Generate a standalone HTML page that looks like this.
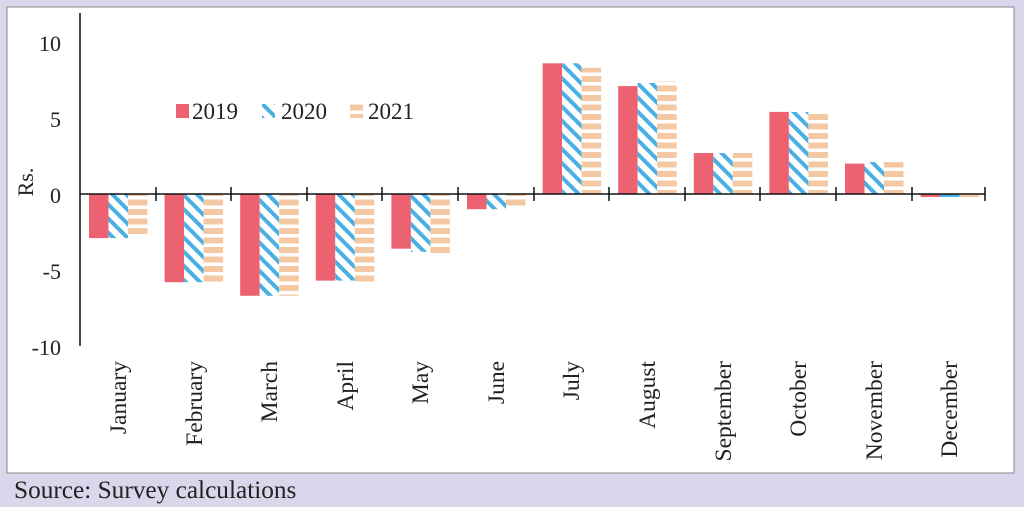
<!DOCTYPE html>
<html><head><meta charset="utf-8"><style>
html,body{margin:0;padding:0;background:#dad6ec;width:1024px;height:507px;overflow:hidden}
svg{display:block}
text{font-family:"Liberation Serif",serif;fill:#222}
</style></head><body>
<svg width="1024" height="507" xmlns="http://www.w3.org/2000/svg">
<defs>
<pattern id="p20" width="10" height="10" patternUnits="userSpaceOnUse" patternTransform="rotate(-45)">
<rect width="10" height="10" fill="#fff"/><rect x="0" y="0" width="4" height="10" fill="#4ab0e4"/></pattern>
<pattern id="p21" width="10" height="9.5" patternUnits="userSpaceOnUse">
<rect width="10" height="9.5" fill="#fff"/><rect x="0" y="0" width="10" height="6" fill="#f5c8a4"/></pattern>
</defs>
<rect x="7" y="7" width="1007" height="466" fill="#fff" stroke="#888" stroke-width="1"/>
<g id="bars">
<rect x="89" y="194" width="19.5" height="44.1" fill="#ec6271"/><rect x="108.5" y="194" width="19.5" height="44.1" fill="url(#p20)"/><rect x="128" y="194" width="19.5" height="41" fill="url(#p21)"/>
<rect x="164.6" y="194" width="19.5" height="88.2" fill="#ec6271"/><rect x="184.1" y="194" width="19.5" height="88.2" fill="url(#p20)"/><rect x="203.6" y="194" width="19.5" height="88.2" fill="url(#p21)"/>
<rect x="240.2" y="194" width="19.5" height="101.8" fill="#ec6271"/><rect x="259.7" y="194" width="19.5" height="101.8" fill="url(#p20)"/><rect x="279.2" y="194" width="19.5" height="101.8" fill="url(#p21)"/>
<rect x="315.8" y="194" width="19.5" height="86.6" fill="#ec6271"/><rect x="335.3" y="194" width="19.5" height="86.6" fill="url(#p20)"/><rect x="354.8" y="194" width="19.5" height="88.2" fill="url(#p21)"/>
<rect x="391.4" y="194" width="19.5" height="54.7" fill="#ec6271"/><rect x="410.9" y="194" width="19.5" height="57.8" fill="url(#p20)"/><rect x="430.4" y="194" width="19.5" height="59.3" fill="url(#p21)"/>
<rect x="467" y="194" width="19.5" height="15.2" fill="#ec6271"/><rect x="486.5" y="194" width="19.5" height="15.2" fill="url(#p20)"/><rect x="506" y="194" width="19.5" height="12.2" fill="url(#p21)"/>
<rect x="542.6" y="63.3" width="19.5" height="130.7" fill="#ec6271"/><rect x="562.1" y="63.3" width="19.5" height="130.7" fill="url(#p20)"/><rect x="581.6" y="67.8" width="19.5" height="126.2" fill="url(#p21)"/>
<rect x="618.2" y="86.1" width="19.5" height="107.9" fill="#ec6271"/><rect x="637.7" y="83" width="19.5" height="111" fill="url(#p20)"/><rect x="657.2" y="81.5" width="19.5" height="112.5" fill="url(#p21)"/>
<rect x="693.8" y="153" width="19.5" height="41" fill="#ec6271"/><rect x="713.3" y="153" width="19.5" height="41" fill="url(#p20)"/><rect x="732.8" y="153" width="19.5" height="41" fill="url(#p21)"/>
<rect x="769.4" y="111.9" width="19.5" height="82.1" fill="#ec6271"/><rect x="788.9" y="111.9" width="19.5" height="82.1" fill="url(#p20)"/><rect x="808.4" y="110.4" width="19.5" height="83.6" fill="url(#p21)"/>
<rect x="845" y="163.6" width="19.5" height="30.4" fill="#ec6271"/><rect x="864.5" y="162.1" width="19.5" height="31.9" fill="url(#p20)"/><rect x="884" y="162.1" width="19.5" height="31.9" fill="url(#p21)"/>
<rect x="920.6" y="194" width="19.5" height="3" fill="#ec6271"/><rect x="940.1" y="194" width="19.5" height="3" fill="#4ab0e4"/><rect x="959.6" y="194" width="19.5" height="3" fill="#f5c8a4"/>
</g>
<g stroke="#111" stroke-width="1.5">
<line x1="80" y1="13" x2="80" y2="346"/>
<line x1="80" y1="194" x2="985" y2="194"/>
<line x1="156" y1="187" x2="156" y2="201"/><line x1="231" y1="187" x2="231" y2="201"/><line x1="307" y1="187" x2="307" y2="201"/>
<line x1="382" y1="187" x2="382" y2="201"/><line x1="458" y1="187" x2="458" y2="201"/><line x1="534" y1="187" x2="534" y2="201"/>
<line x1="609" y1="187" x2="609" y2="201"/><line x1="685" y1="187" x2="685" y2="201"/><line x1="760" y1="187" x2="760" y2="201"/>
<line x1="836" y1="187" x2="836" y2="201"/><line x1="912" y1="187" x2="912" y2="201"/><line x1="985" y1="187" x2="985" y2="201"/>
</g>
<g font-size="22" text-anchor="end">
<text x="61" y="51">10</text><text x="61" y="127">5</text><text x="61" y="203">0</text><text x="61" y="279">-5</text><text x="61" y="355">-10</text>
</g>
<text transform="translate(33,182) rotate(-90)" font-size="22" text-anchor="middle">Rs.</text>
<rect x="176" y="104" width="13" height="14" fill="#ec6271"/><text x="192" y="119" font-size="23">2019</text>
<rect x="262" y="104" width="13" height="14" fill="url(#p20)"/><text x="281" y="119" font-size="23">2020</text>
<rect x="350" y="104" width="13" height="14" fill="url(#p21)"/><text x="368" y="119" font-size="23">2021</text>
<g font-size="23.5" text-anchor="end">
<text transform="translate(126,361) rotate(-90)">January</text>
<text transform="translate(202,361) rotate(-90)">February</text>
<text transform="translate(277,361) rotate(-90)">March</text>
<text transform="translate(353,361) rotate(-90)">April</text>
<text transform="translate(428,361) rotate(-90)">May</text>
<text transform="translate(504,361) rotate(-90)">June</text>
<text transform="translate(579,361) rotate(-90)">July</text>
<text transform="translate(655,361) rotate(-90)">August</text>
<text transform="translate(731,361) rotate(-90)">September</text>
<text transform="translate(806,361) rotate(-90)">October</text>
<text transform="translate(882,361) rotate(-90)">November</text>
<text transform="translate(957,361) rotate(-90)">December</text>
</g>
<text x="14" y="498" font-size="25.3">Source: Survey calculations</text>
</svg>
</body></html>
